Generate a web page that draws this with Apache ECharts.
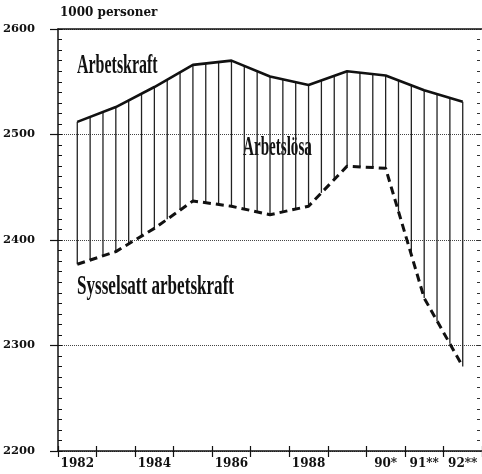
<!DOCTYPE html>
<html>
<head>
<meta charset="utf-8">
<script src="https://cdn.jsdelivr.net/npm/echarts@6/dist/echarts.min.js"></script>
<style>
  html, body { margin: 0; padding: 0; background: #fff; }
  #chart { width: 482px; height: 474px; }
</style>
</head>
<body>
<div id="chart"></div>
<script>
var years = ['1982', '1983', '1984', '1985', '1986', '1987', '1988', '1989', '1990', '1991', '1992'];
var tickLabels = ['1982', '', '1984', '', '1986', '', '1988', '', '90*', '91**', '92**'];
var arbetskraft = [2512, 2526, 2545, 2566, 2570, 2555, 2547, 2560, 2556, 2542, 2531];
var sysselsatt = [2377, 2389, 2411, 2437, 2432, 2424, 2432, 2470, 2468, 2345, 2280];

var ink = '#111';
var numFont = '"DejaVu Serif", serif';
var wordFont = 'bold 28px "Liberation Serif"';

// vertical hatching between the two lines, three strokes per year
function renderHatch(params, api) {
    var i = api.value(0);
    var top0 = api.coord([i, api.value(1)]);
    var bot0 = api.coord([i, api.value(2)]);
    var top1 = top0, bot1 = bot0, steps = 1;
    if (i < years.length - 1) {
        top1 = api.coord([i + 1, arbetskraft[i + 1]]);
        bot1 = api.coord([i + 1, sysselsatt[i + 1]]);
        steps = 3;
    }
    var children = [];
    for (var k = 0; k < steps; k++) {
        var t = k / 3;
        var x = top0[0] + (top1[0] - top0[0]) * t;
        var y1 = top0[1] + (top1[1] - top0[1]) * t;
        var y2 = bot0[1] + (bot1[1] - bot0[1]) * t;
        children.push({
            type: 'line',
            shape: { x1: x, y1: y1, x2: x, y2: y2 },
            style: { stroke: '#222', lineWidth: 1.3 }
        });
    }
    return { type: 'group', children: children };
}

var hatchData = years.map(function (y, i) {
    return [i, arbetskraft[i], sysselsatt[i]];
});

var myChart = echarts.init(document.getElementById('chart'));

var option = {
    backgroundColor: '#fff',
    animation: false,
    grid: { left: 58, right: 0, top: 29, bottom: 23 },
    xAxis: [{
        type: 'category',
        position: 'bottom',
        data: years,
        boundaryGap: true,
        axisLine: { lineStyle: { color: ink, width: 1.5 } },
        axisTick: { show: true, interval: 0, length: 6, lineStyle: { color: ink, width: 1.2 } },
        axisLabel: {
            interval: 0,
            margin: 7,
            color: ink,
            fontFamily: numFont,
            fontWeight: 'bold',
            fontSize: 12,
            formatter: function (v, idx) { return tickLabels[idx]; }
        },
        splitLine: { show: false }
    }, {
        type: 'category',
        position: 'bottom',
        data: years,
        boundaryGap: true,
        axisLine: { show: false },
        axisTick: { show: true, inside: true, interval: 0, length: 5, lineStyle: { color: ink, width: 1.2 } },
        axisLabel: { show: false }
    }, {
        type: 'category',
        position: 'top',
        data: years,
        boundaryGap: true,
        axisLine: { lineStyle: { color: ink, width: 1.5 } },
        axisTick: { show: false },
        axisLabel: { show: false }
    }],
    yAxis: [{
        type: 'value',
        position: 'left',
        min: 2200,
        max: 2600,
        interval: 100,
        name: '1000 personer',
        nameLocation: 'end',
        nameGap: 10,
        nameTextStyle: {
            align: 'left',
            padding: [0, 0, 0, 2],
            color: ink,
            fontFamily: numFont,
            fontWeight: 'bold',
            fontSize: 12
        },
        axisLine: { show: true, lineStyle: { color: ink, width: 1.5 } },
        axisTick: { show: true, length: 8, lineStyle: { color: ink, width: 1.2 } },
        axisLabel: {
            margin: 23,
            color: ink,
            fontFamily: numFont,
            fontWeight: 'bold',
            fontSize: 11.5,
            formatter: function (v) { return String(v); }
        },
        splitLine: { show: true, lineStyle: { color: '#444', type: 'dotted', width: 1 } }
    }, {
        type: 'value',
        position: 'left',
        min: 2200,
        max: 2600,
        interval: 10,
        axisLine: { show: false },
        axisTick: { show: true, inside: true, length: 4, lineStyle: { color: ink, width: 1 } },
        axisLabel: { show: false },
        splitLine: { show: false }
    }, {
        type: 'value',
        position: 'right',
        offset: -2,
        min: 2200,
        max: 2600,
        interval: 10,
        axisLine: { show: false },
        axisTick: { show: true, inside: true, length: 3, lineStyle: { color: '#333', width: 1 } },
        axisLabel: { show: false },
        splitLine: { show: false }
    }],
    graphic: [{
        type: 'text', x: 77, y: 66, scaleX: 0.57,
        style: { text: 'Arbetskraft', font: wordFont, fill: ink, align: 'left', verticalAlign: 'middle' }
    }, {
        type: 'text', x: 243, y: 148, scaleX: 0.54,
        style: { text: 'Arbetslösa', font: wordFont, fill: ink, align: 'left', verticalAlign: 'middle' }
    }, {
        type: 'text', x: 77, y: 287, scaleX: 0.61,
        style: { text: 'Sysselsatt arbetskraft', font: wordFont, fill: ink, align: 'left', verticalAlign: 'middle' }
    }],
    series: [{
        name: 'hatch',
        type: 'custom',
        xAxisIndex: 0,
        yAxisIndex: 0,
        renderItem: renderHatch,
        encode: { x: 0, y: [1, 2] },
        data: hatchData,
        z: 1
    }, {
        name: 'Arbetskraft',
        type: 'line',
        xAxisIndex: 0,
        yAxisIndex: 0,
        data: arbetskraft,
        symbol: 'none',
        lineStyle: { color: ink, width: 2.6 },
        z: 3
    }, {
        name: 'Sysselsatt arbetskraft',
        type: 'line',
        xAxisIndex: 0,
        yAxisIndex: 0,
        data: sysselsatt,
        symbol: 'none',
        lineStyle: { color: ink, width: 3, type: [8, 5] },
        z: 3
    }]
};

myChart.setOption(option);
</script>
</body>
</html>
